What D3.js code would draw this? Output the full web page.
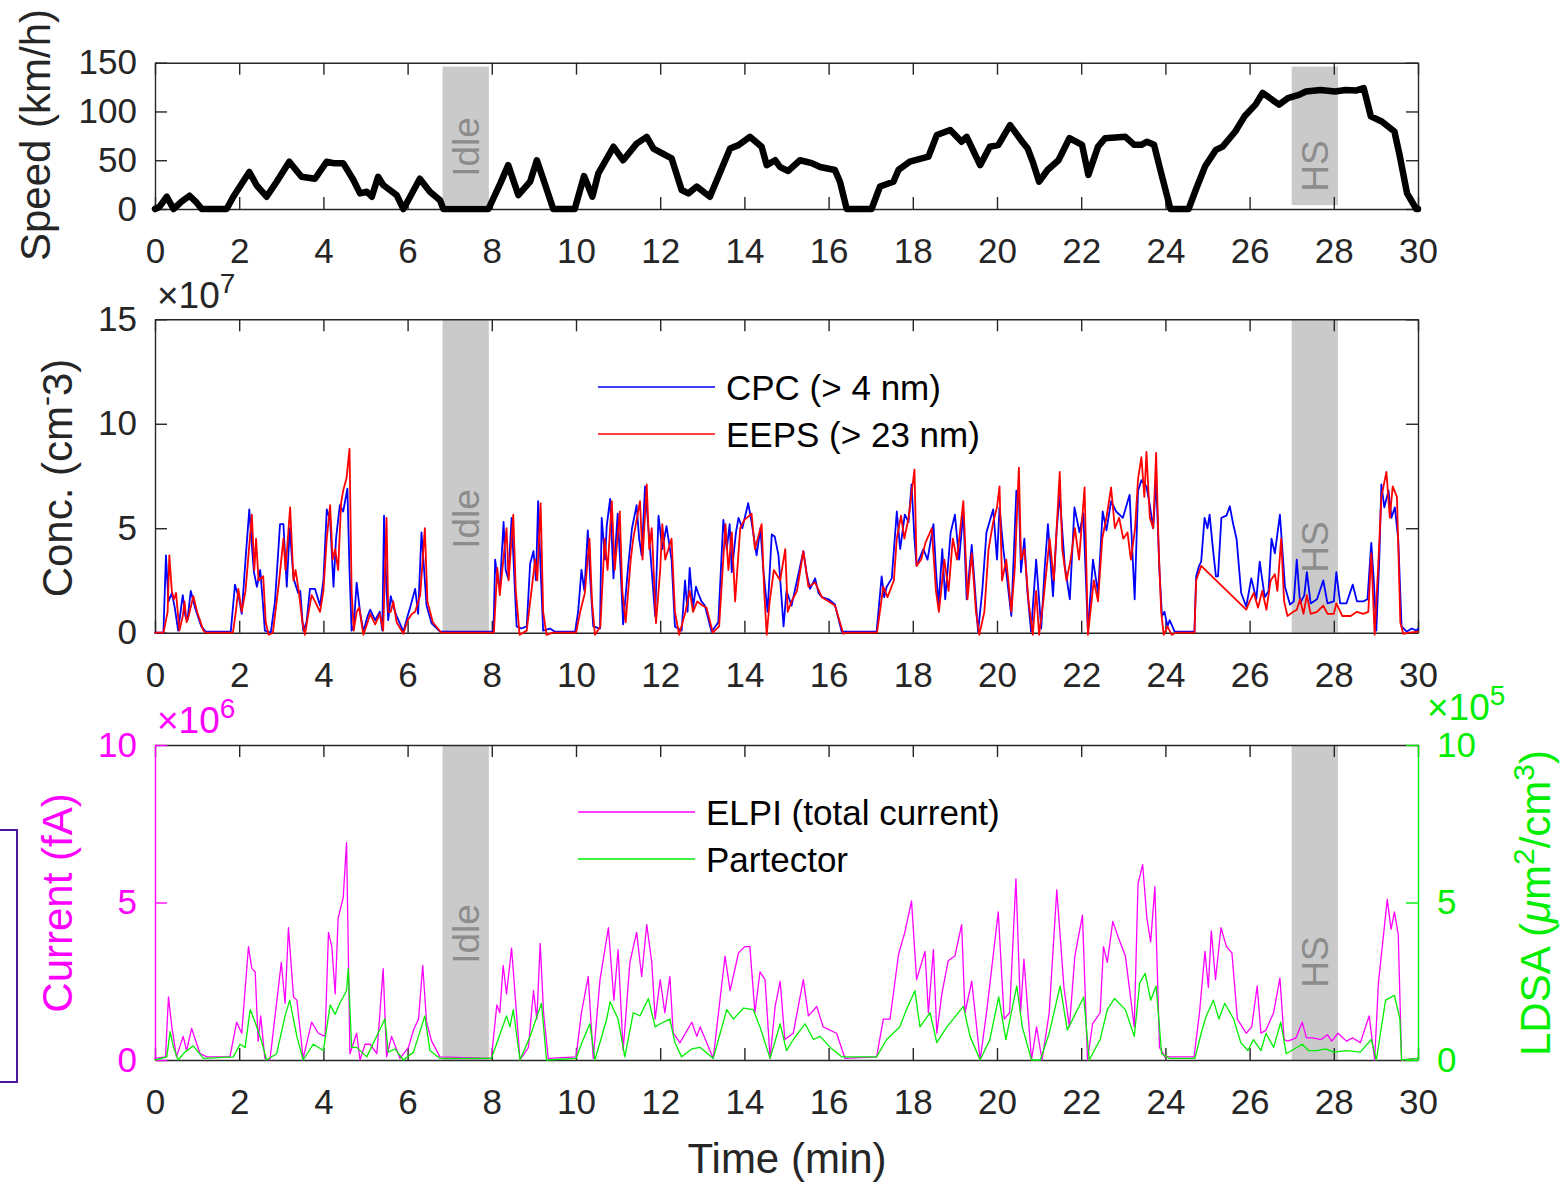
<!DOCTYPE html>
<html>
<head>
<meta charset="utf-8">
<script src="https://cdn.jsdelivr.net/npm/d3@7"></script>
<style>
  body { margin: 0; background: #fff; }
  svg { display: block; }
</style>
</head>
<body>
<div id="chart"></div>
<script>
/* CONSTANTS */
const width = 1567, height = 1183;
const FONT = "'Liberation Sans', Arial, Helvetica, sans-serif";
const INK = "#262626";

/* DATA (time in min) */
const xTicks = [0, 2, 4, 6, 8, 10, 12, 14, 16, 18, 20, 22, 24, 26, 28, 30];
const speedTicks = [0, 50, 100, 150];
const concTicks = [0, 5, 10, 15];
const currentTicks = [0, 5, 10];
const ldsaTicks = [0, 5, 10];

// shaded periods
const bands = [
  { start: 6.83, end: 7.93, label: "Idle" },
  { start: 27.0, end: 28.1, label: "HS" }
];
const speedBandRange = [4, 146];

// vehicle speed (km/h)
const speed = [[0,0],[0.1,2],[0.28,12.6],[0.44,0],[0.63,7.5],[0.82,13.6],[0.99,6.5],[1.11,0],[1.7,0],[1.86,12.6],[2.24,38],[2.41,24.6],[2.65,12.6],[2.89,28],[3.19,48.5],[3.48,33],[3.8,31],[4.08,48.5],[4.24,47],[4.47,47],[4.71,30],[4.87,16],[5.03,17.7],[5.15,12.6],[5.3,33],[5.42,24.6],[5.74,14.3],[5.9,0],[6.06,12.6],[6.29,31],[6.53,17.7],[6.77,9],[6.85,0],[7.92,0],[8.2,26],[8.39,45],[8.63,14.3],[8.91,28],[9.07,50],[9.23,29.7],[9.46,0],[9.97,0],[10.19,33.8],[10.39,12.6],[10.53,36.5],[10.89,63.8],[11.12,50],[11.44,67],[11.68,74],[11.84,62],[12.27,52],[12.51,19.5],[12.67,16],[12.87,23],[13.18,12.6],[13.66,62],[13.86,65.5],[14.13,74],[14.41,63.8],[14.53,45],[14.73,50],[14.85,43],[15.04,39],[15.32,50],[15.6,47],[15.8,43],[16.15,40],[16.27,28],[16.43,0],[17.02,0],[17.22,23],[17.54,28],[17.66,40],[17.93,48.5],[18.37,53.6],[18.57,75.8],[18.89,81],[19.16,69],[19.28,74],[19.6,45],[19.83,63.8],[20.03,65.5],[20.31,86],[20.6,69],[20.73,62],[20.86,47],[21.0,28],[21.2,40],[21.46,50],[21.72,72.6],[22.02,65.8],[22.17,35],[22.4,64],[22.57,72.6],[23.05,74],[23.26,65.8],[23.43,65.8],[23.56,69],[23.73,65.8],[23.9,36.6],[24.12,0],[24.55,0],[24.72,19.5],[24.94,43.5],[25.2,60.6],[25.36,64],[25.66,79.5],[25.88,95],[26.14,107],[26.31,119],[26.7,107],[26.91,113.7],[27.17,117],[27.34,120.5],[27.68,122],[28.03,120.5],[28.28,122],[28.54,121.6],[28.71,124],[28.88,95],[29.14,89.7],[29.44,79.5],[29.57,53.8],[29.74,16],[29.96,0],[30,0]];

// CPC number concentration (x 1e7 cm-3)
const cpc = [[0,0],[0.2,0],[0.26,3.7],[0.32,1.5],[0.4,1.9],[0.47,1.2],[0.55,0.1],[0.62,1.2],[0.66,1.8],[0.72,0.8],[0.77,0.6],[0.85,2.0],[0.95,1.2],[1.1,0.3],[1.2,0.05],[1.8,0.05],[1.9,2.3],[2.0,1.6],[2.06,0.9],[2.15,3.5],[2.24,5.9],[2.3,4.2],[2.35,2.9],[2.42,2.2],[2.5,3.0],[2.56,1.5],[2.61,0.1],[2.75,0.0],[2.85,1.5],[2.97,5.2],[3.05,5.2],[3.13,2.2],[3.2,5.0],[3.29,2.6],[3.4,1.9],[3.45,2.0],[3.52,0.1],[3.6,0.5],[3.68,2.1],[3.8,2.1],[3.92,1.3],[4.0,2.5],[4.08,5.9],[4.16,5.4],[4.24,2.2],[4.3,4.5],[4.39,6.1],[4.47,5.8],[4.57,6.9],[4.62,3.0],[4.67,0.1],[4.72,0.3],[4.79,2.4],[4.87,1.0],[4.95,0.05],[5.05,0.8],[5.11,1.1],[5.23,0.6],[5.34,1.0],[5.4,0.1],[5.44,5.6],[5.5,2.0],[5.54,0.6],[5.6,1.75],[5.67,1.2],[5.74,0.8],[5.9,0.05],[6.0,0.8],[6.06,1.2],[6.18,2.1],[6.25,0.9],[6.33,4.8],[6.4,2.8],[6.45,1.3],[6.57,0.45],[6.77,0.05],[8.04,0.05],[8.08,3.5],[8.14,2.5],[8.19,2.1],[8.28,5.3],[8.33,3.0],[8.39,2.6],[8.47,5.5],[8.55,2.0],[8.59,0.3],[8.7,0.2],[8.83,0.3],[8.91,3.3],[8.99,3.9],[9.05,2.5],[9.1,6.3],[9.16,3.0],[9.22,0.1],[9.38,0.2],[9.5,0.05],[9.98,0.05],[10.05,1.0],[10.13,3.0],[10.2,2.0],[10.28,4.9],[10.34,2.5],[10.41,0.3],[10.57,0.2],[10.61,5.5],[10.69,3.5],[10.73,5.1],[10.81,6.4],[10.89,2.6],[10.99,5.7],[11.06,3.0],[11.12,0.4],[11.24,3.2],[11.33,5.0],[11.44,6.1],[11.5,4.5],[11.56,3.7],[11.64,7.0],[11.7,5.5],[11.76,4.0],[11.88,0.8],[11.96,5.6],[12.05,4.0],[12.15,5.1],[12.27,3.5],[12.35,0.3],[12.51,0.1],[12.59,2.5],[12.65,1.0],[12.7,3.1],[12.78,1.2],[12.85,2.2],[12.9,1.9],[12.98,1.5],[13.06,1.3],[13.22,0.05],[13.38,0.5],[13.5,5.4],[13.58,4.0],[13.65,5.2],[13.7,2.9],[13.8,4.8],[13.86,5.5],[13.95,5.0],[14.09,6.2],[14.17,5.3],[14.29,3.7],[14.38,5.0],[14.45,3.0],[14.55,1.0],[14.65,4.7],[14.72,4.6],[14.81,3.7],[14.93,0.3],[15.0,2.0],[15.12,1.3],[15.25,2.5],[15.4,3.9],[15.48,2.8],[15.56,2.1],[15.68,2.6],[15.76,1.9],[15.84,1.7],[16.0,1.6],[16.15,1.35],[16.31,0.05],[17.14,0.05],[17.26,2.7],[17.32,1.7],[17.38,2.2],[17.5,2.6],[17.62,5.8],[17.7,4.0],[17.81,5.65],[17.9,5.3],[17.97,7.1],[18.04,4.5],[18.09,3.2],[18.25,4.0],[18.35,3.5],[18.49,5.2],[18.55,3.0],[18.61,1.3],[18.7,4.0],[18.77,1.6],[18.9,4.8],[19.0,5.65],[19.1,3.5],[19.2,5.8],[19.28,1.6],[19.4,4.2],[19.48,2.0],[19.55,0.05],[19.65,2.0],[19.75,4.8],[19.85,5.5],[19.91,5.9],[20.0,3.5],[20.06,6.0],[20.15,4.0],[20.22,2.9],[20.34,0.8],[20.46,6.8],[20.52,6.5],[20.57,2.9],[20.65,4.5],[20.72,2.0],[20.81,0.05],[20.93,3.5],[21.05,0.2],[21.13,3.0],[21.21,5.2],[21.33,1.75],[21.42,5.0],[21.49,6.6],[21.61,3.2],[21.73,1.6],[21.84,6.0],[21.96,4.8],[22.05,5.7],[22.16,0.1],[22.28,3.5],[22.4,1.9],[22.51,5.8],[22.6,4.9],[22.71,6.3],[22.83,5.8],[22.99,5.5],[23.15,6.6],[23.27,1.6],[23.35,6.8],[23.43,7.3],[23.55,7.0],[23.63,6.1],[23.71,5.0],[23.78,7.3],[23.86,2.9],[23.92,0.8],[23.98,1.0],[24.05,0.3],[24.1,0.6],[24.22,0.05],[24.69,0.05],[24.73,2.7],[24.8,3.2],[24.85,3.4],[24.93,5.5],[25.0,5.0],[25.05,5.65],[25.13,4.0],[25.2,2.7],[25.25,2.7],[25.33,5.5],[25.45,5.6],[25.53,6.05],[25.61,5.2],[25.69,4.5],[25.8,1.9],[25.92,1.25],[26.04,2.6],[26.16,1.6],[26.24,3.4],[26.36,1.7],[26.45,2.0],[26.52,4.5],[26.6,3.8],[26.72,5.65],[26.84,2.2],[26.96,1.35],[27.05,1.5],[27.12,3.5],[27.2,1.4],[27.3,1.8],[27.36,2.9],[27.45,1.4],[27.6,1.6],[27.75,2.5],[27.85,1.4],[28.0,1.5],[28.06,2.9],[28.15,1.4],[28.3,1.4],[28.45,2.3],[28.55,1.5],[28.7,1.5],[28.8,1.6],[28.89,4.3],[28.95,2.5],[29.01,0.1],[29.08,3.5],[29.13,7.1],[29.2,6.0],[29.3,6.8],[29.37,5.5],[29.45,6.0],[29.53,4.5],[29.61,0.3],[29.73,0.05],[29.85,0.2],[29.97,0.1],[30,0.2]];

// EEPS number concentration (x 1e7 cm-3)
const eeps = [[0,0],[0.2,0],[0.3,1.0],[0.34,3.7],[0.4,2.0],[0.45,1.6],[0.5,1.9],[0.58,0.1],[0.66,0.8],[0.7,1.5],[0.75,0.5],[0.8,0.8],[0.91,1.75],[1.0,1.0],[1.15,0.1],[1.2,0],[1.85,0],[1.92,1.0],[1.98,2.1],[2.06,1.0],[2.15,2.0],[2.3,5.65],[2.36,3.0],[2.4,4.5],[2.46,2.5],[2.57,2.7],[2.63,0.5],[2.7,-0.1],[2.8,0],[2.95,2.5],[3.05,4.5],[3.1,3.0],[3.21,6.0],[3.29,2.5],[3.34,3.0],[3.42,1.9],[3.5,0.5],[3.56,-0.1],[3.65,1.0],[3.72,1.8],[3.8,1.5],[3.92,1.0],[4.0,2.0],[4.08,4.5],[4.16,6.1],[4.22,3.5],[4.28,4.0],[4.35,3.0],[4.42,6.2],[4.47,6.8],[4.55,7.4],[4.62,8.8],[4.67,2.0],[4.72,0.1],[4.79,1.0],[4.85,1.2],[4.95,-0.1],[5.05,0.5],[5.11,0.9],[5.23,0.4],[5.34,0.9],[5.42,0.1],[5.5,5.5],[5.54,1.0],[5.6,1.0],[5.66,1.5],[5.74,0.5],[5.9,-0.05],[6.0,0.6],[6.1,0.9],[6.18,1.0],[6.3,1.8],[6.41,5.0],[6.47,1.5],[6.6,0.5],[6.8,0],[8.05,0],[8.13,3.1],[8.19,1.8],[8.35,5.0],[8.4,2.5],[8.51,5.65],[8.57,2.0],[8.66,-0.1],[8.83,0.1],[9.03,3.5],[9.08,2.5],[9.16,6.2],[9.22,1.0],[9.3,-0.1],[9.45,0],[10.0,0],[10.1,1.0],[10.21,1.9],[10.32,4.5],[10.38,1.5],[10.45,-0.1],[10.58,0.3],[10.68,4.5],[10.75,3.0],[10.85,6.3],[10.92,3.0],[11.04,5.8],[11.1,2.0],[11.18,0.5],[11.3,3.5],[11.36,4.5],[11.52,6.3],[11.58,3.5],[11.68,7.1],[11.74,4.0],[11.8,5.0],[11.9,0.45],[12.0,3.0],[12.05,5.2],[12.12,3.5],[12.27,4.5],[12.35,1.0],[12.45,-0.1],[12.6,1.0],[12.7,2.0],[12.78,1.0],[12.88,1.5],[13.0,1.3],[13.1,1.2],[13.25,0],[13.4,0.3],[13.55,5.2],[13.62,3.0],[13.7,4.8],[13.78,1.5],[13.9,5.0],[14.0,5.4],[14.17,5.7],[14.25,4.0],[14.41,5.2],[14.47,2.0],[14.53,-0.1],[14.6,1.5],[14.7,3.0],[14.85,2.5],[14.97,4.0],[15.03,1.0],[15.12,1.5],[15.25,2.0],[15.4,3.9],[15.52,2.2],[15.68,2.4],[15.84,1.7],[16.15,1.3],[16.35,-0.05],[16.45,0],[17.15,0],[17.3,2.2],[17.4,1.7],[17.55,2.5],[17.62,4.5],[17.72,5.6],[17.8,4.5],[17.9,5.5],[18.04,7.8],[18.09,3.2],[18.2,3.5],[18.3,4.3],[18.45,5.0],[18.55,2.0],[18.62,1.0],[18.75,3.5],[18.85,2.0],[18.95,4.5],[19.05,3.5],[19.2,6.3],[19.3,1.6],[19.4,3.8],[19.5,1.0],[19.58,-0.1],[19.7,1.0],[19.8,4.0],[19.91,5.3],[20.0,6.0],[20.06,7.0],[20.12,2.5],[20.22,3.5],[20.34,1.0],[20.42,3.0],[20.52,7.9],[20.57,3.5],[20.65,4.0],[20.75,1.5],[20.85,-0.1],[20.93,2.0],[21.0,-0.1],[21.1,1.5],[21.25,4.5],[21.35,2.5],[21.49,7.7],[21.55,4.0],[21.65,2.5],[21.75,3.5],[21.85,5.0],[21.95,3.5],[22.08,6.95],[22.16,-0.1],[22.3,2.5],[22.4,1.5],[22.5,4.5],[22.6,5.5],[22.71,6.95],[22.8,5.0],[22.9,5.5],[23.0,4.5],[23.1,4.8],[23.18,3.5],[23.28,5.0],[23.35,7.35],[23.43,8.4],[23.5,6.5],[23.55,8.65],[23.63,5.5],[23.71,5.0],[23.78,8.6],[23.84,4.0],[23.9,1.0],[23.96,-0.1],[24.05,0.3],[24.15,-0.1],[24.25,0],[24.69,0],[24.73,2.5],[24.85,3.2],[25.92,1.1],[26.0,1.5],[26.1,1.9],[26.2,1.2],[26.3,2.0],[26.4,1.1],[26.5,2.5],[26.6,2.8],[26.66,2.0],[26.75,4.5],[26.82,1.5],[26.9,0.8],[27.0,0.95],[27.12,1.1],[27.2,1.6],[27.28,0.9],[27.36,1.8],[27.45,0.9],[27.6,1.0],[27.75,1.3],[27.85,0.9],[28.0,0.9],[28.06,1.4],[28.2,0.8],[28.4,0.8],[28.55,1.0],[28.7,0.9],[28.82,1.0],[28.89,3.8],[28.97,-0.1],[29.05,3.0],[29.13,6.5],[29.25,7.7],[29.33,5.5],[29.4,7.0],[29.5,6.5],[29.58,0.5],[29.65,-0.05],[29.8,0],[30,0.05]];

// ELPI total current (x 1e6 fA)
const elpi = [[0,0.05],[0.25,0.1],[0.32,2.0],[0.4,1.05],[0.51,0.1],[0.67,0.75],[0.75,0.3],[0.87,1.0],[1.07,0.2],[1.23,0.1],[1.78,0.1],[1.94,1.2],[2.06,0.85],[2.22,3.6],[2.3,2.9],[2.38,2.8],[2.45,0.6],[2.51,1.4],[2.61,0.05],[2.73,0.0],[3.0,3.1],[3.09,1.8],[3.17,4.2],[3.29,2.0],[3.37,1.9],[3.52,0.05],[3.72,1.2],[3.88,0.85],[4.04,0.75],[4.12,4.05],[4.2,3.6],[4.28,2.1],[4.35,4.5],[4.47,5.15],[4.55,6.9],[4.63,0.2],[4.79,0.85],[4.87,0],[4.99,0.5],[5.11,0.5],[5.27,0.2],[5.42,2.9],[5.5,0.1],[5.62,0.75],[5.82,0.05],[6.02,0.4],[6.14,0.95],[6.26,1.3],[6.36,3.0],[6.45,1.2],[6.57,0.6],[6.77,0.1],[7.99,0.05],[8.12,1.75],[8.19,1.5],[8.27,3.0],[8.35,2.1],[8.47,3.55],[8.67,0],[8.87,0.4],[8.99,2.2],[9.07,1.3],[9.15,3.7],[9.23,1.5],[9.34,0.05],[10.0,0.1],[10.13,1.5],[10.29,2.65],[10.41,0.05],[10.57,2.55],[10.77,4.2],[10.9,1.9],[11.0,3.5],[11.12,0.3],[11.28,3.1],[11.44,4.05],[11.56,2.65],[11.68,4.3],[11.8,3.1],[11.88,1.3],[12.0,2.55],[12.11,1.5],[12.23,2.65],[12.31,0.85],[12.47,0.55],[12.75,1.2],[12.87,0.75],[12.95,1.05],[13.26,0.05],[13.54,3.3],[13.66,2.2],[13.86,3.4],[14.01,3.6],[14.13,3.6],[14.25,1.5],[14.37,2.8],[14.49,2.55],[14.61,0.05],[14.73,1.7],[14.85,2.5],[14.96,0.65],[15.16,0.85],[15.4,2.55],[15.52,1.4],[15.72,1.7],[15.87,1.05],[16.19,0.85],[16.39,0.05],[17.14,0.1],[17.3,1.3],[17.46,1.3],[17.66,3.35],[17.81,4.05],[17.97,5.05],[18.09,2.55],[18.29,3.45],[18.37,1.5],[18.49,3.5],[18.57,0.85],[18.69,2.1],[18.84,3.15],[19.0,3.3],[19.16,4.3],[19.24,1.5],[19.4,2.5],[19.6,0],[19.76,1.6],[20.03,4.7],[20.17,1.3],[20.3,1.5],[20.45,5.75],[20.56,1.5],[20.64,3.2],[20.82,0],[20.94,1.05],[21.07,0],[21.24,1.5],[21.42,5.4],[21.59,2.3],[21.72,1.05],[21.85,3.3],[22.03,4.6],[22.15,0],[22.27,1.15],[22.45,1.5],[22.53,3.6],[22.62,3.1],[22.75,4.4],[22.88,3.9],[23.05,3.3],[23.26,1.05],[23.35,5.6],[23.46,6.2],[23.56,4.5],[23.65,3.75],[23.75,5.5],[23.86,0.4],[23.99,0.1],[24.68,0.1],[24.81,1.5],[24.94,3.45],[25.02,2.3],[25.09,4.1],[25.19,2.55],[25.32,4.2],[25.45,3.6],[25.58,3.4],[25.71,1.3],[25.92,0.85],[26.05,1.05],[26.18,2.35],[26.27,0.85],[26.39,0.95],[26.57,1.5],[26.72,2.6],[26.82,0.65],[26.91,0.6],[27.1,0.7],[27.25,1.2],[27.35,0.7],[27.5,0.7],[27.7,0.65],[27.85,0.8],[27.95,0.6],[28.1,0.85],[28.3,0.6],[28.45,0.7],[28.63,0.55],[28.84,1.4],[28.97,0],[29.06,2.45],[29.27,5.1],[29.36,4.15],[29.44,4.7],[29.53,4.0],[29.61,0],[30,0.05]];

// Partector LDSA (x 1e5 um2/cm3)
const partector = [[0,0],[0.28,0.1],[0.36,0.9],[0.44,0.4],[0.55,0],[0.71,0.25],[0.91,0.45],[1.15,0.05],[1.86,0.1],[2.02,0.5],[2.14,0.4],[2.26,1.6],[2.38,1.2],[2.53,0.6],[2.65,0],[2.89,0.2],[3.09,1.4],[3.2,1.9],[3.37,0.75],[3.52,0],[3.76,0.5],[4.0,0.3],[4.16,1.75],[4.28,1.45],[4.39,1.8],[4.55,2.2],[4.59,2.9],[4.67,0.4],[4.79,0.4],[5.03,0.1],[5.46,1.3],[5.54,0.25],[5.7,0.35],[5.9,0],[6.14,0.25],[6.41,1.4],[6.53,0.3],[6.77,0.05],[7.99,0.05],[8.19,0.8],[8.35,1.4],[8.43,1.05],[8.51,1.6],[8.67,0],[8.91,0.75],[9.18,1.8],[9.3,0],[10.0,0.05],[10.17,0.65],[10.33,1.15],[10.45,0],[10.73,1.3],[10.81,1.85],[11.0,1.3],[11.16,0.1],[11.36,1.5],[11.52,1.4],[11.72,1.95],[11.88,1.05],[12.0,1.15],[12.23,1.3],[12.35,0.55],[12.51,0.1],[12.75,0.35],[12.95,0.4],[13.26,0.05],[13.58,1.6],[13.74,1.3],[13.98,1.65],[14.21,1.6],[14.37,1.05],[14.61,0.05],[14.85,1.15],[15.0,0.3],[15.16,0.65],[15.44,1.15],[15.64,0.65],[15.8,0.75],[16.04,0.4],[16.31,0.1],[17.14,0.1],[17.38,0.65],[17.69,1.05],[17.85,1.6],[18.05,2.2],[18.17,1.05],[18.41,1.5],[18.57,0.55],[18.81,1.05],[19.2,1.7],[19.36,0.75],[19.6,0],[19.83,0.65],[20.04,2.0],[20.21,0.65],[20.47,2.35],[20.6,1.05],[20.82,0],[21.03,0],[21.24,0.85],[21.5,2.35],[21.67,0.95],[22.06,2.0],[22.19,0],[22.45,0.65],[22.62,1.6],[22.79,1.95],[23.05,1.6],[23.26,0.75],[23.39,2.45],[23.52,2.75],[23.65,1.9],[23.78,2.35],[23.91,0.2],[24.1,0.05],[24.7,0.05],[24.85,0.85],[24.97,1.4],[25.14,1.9],[25.27,1.3],[25.41,1.8],[25.62,1.3],[25.79,0.55],[25.96,0.3],[26.09,0.65],[26.27,0.3],[26.39,0.85],[26.57,0.4],[26.74,1.2],[26.87,0.2],[27.0,0.3],[27.25,0.5],[27.4,0.3],[27.6,0.3],[27.8,0.35],[28.0,0.25],[28.3,0.3],[28.63,0.25],[28.89,0.65],[29.01,0],[29.23,1.9],[29.44,2.05],[29.57,1.3],[29.61,0],[30,0.05]];

/* SVG */
const svg = d3.select("#chart").append("svg")
  .attr("width", width)
  .attr("height", height)
  .style("font-family", FONT);

/* SCALES */
const xScale = d3.scaleLinear().domain([0, 30]).range([155, 1418]);
const ySpeed = d3.scaleLinear().domain([0, 150]).range([209, 62.7]);
const yConc = d3.scaleLinear().domain([0, 15]).range([632.7, 319.3]);
const yCur = d3.scaleLinear().domain([0, 10]).range([1060, 745]);
const yLdsa = d3.scaleLinear().domain([0, 10]).range([1060, 745]);

// axis styling helper
function style(g, color) {
  g.attr("font-family", FONT).attr("font-size", 35);
  g.select(".domain").attr("stroke", color).attr("stroke-width", 1.4);
  g.selectAll(".tick line").attr("stroke", color).attr("stroke-width", 1.4);
  g.selectAll(".tick text").attr("fill", color);
}

// shaded bands + rotated labels
function drawBands(yScale, yRange, labelY) {
  bands.forEach((b, i) => {
    svg.append("rect")
      .attr("x", xScale(b.start))
      .attr("width", xScale(b.end) - xScale(b.start))
      .attr("y", yScale(yRange[1]))
      .attr("height", yScale(yRange[0]) - yScale(yRange[1]))
      .attr("fill", "#cacaca");
    const cx = (xScale(b.start) + xScale(b.end)) / 2;
    svg.append("text")
      .attr("transform", `translate(${cx},${labelY[i]}) rotate(-90)`)
      .attr("text-anchor", "middle")
      .attr("dy", "0.36em")
      .attr("font-size", 37)
      .attr("fill", "#8c8c8c")
      .text(b.label);
  });
}

// box with inward ticks
function drawBox(yScale, yTicks, leftColor, rightColor, rightLabels) {
  const y0 = yScale.range()[0], y1 = yScale.range()[1];
  svg.append("g")
    .attr("transform", `translate(0,${y0})`)
    .call(d3.axisBottom(xScale).tickValues(xTicks).tickSizeInner(-12).tickSizeOuter(0).tickPadding(29))
    .call(g => style(g, INK));
  svg.append("g")
    .attr("transform", `translate(0,${y1})`)
    .call(d3.axisTop(xScale).tickValues(xTicks).tickSizeInner(-12).tickSizeOuter(0).tickFormat(""))
    .call(g => style(g, INK));
  svg.append("g")
    .attr("transform", `translate(${xScale.range()[0]},0)`)
    .call(d3.axisLeft(yScale).tickValues(yTicks).tickSizeInner(-12).tickSizeOuter(0).tickPadding(18))
    .call(g => style(g, leftColor));
  svg.append("g")
    .attr("transform", `translate(${xScale.range()[1]},0)`)
    .call(d3.axisRight(yScale).tickValues(yTicks).tickSizeInner(-12).tickSizeOuter(0).tickPadding(19)
      .tickFormat(rightLabels ? d => d : ""))
    .call(g => style(g, rightColor));
}

function drawLine(data, yScale, color, w) {
  svg.append("path")
    .datum(data)
    .attr("fill", "none")
    .attr("stroke", color)
    .attr("stroke-width", w)
    .attr("stroke-linejoin", "round")
    .attr("stroke-linecap", "round")
    .attr("d", d3.line().x(d => xScale(d[0])).y(d => yScale(d[1])));
}

function rotLabel(x, y, color, parts) {
  const t = svg.append("text")
    .attr("transform", `translate(${x},${y}) rotate(-90)`)
    .attr("text-anchor", "middle")
    .attr("font-size", 42)
    .attr("fill", color);
  parts.forEach(p => {
    const s = t.append("tspan").text(p.t);
    if (p.sup) s.attr("baseline-shift", "super").attr("font-size", 30);
    if (p.it) s.attr("font-style", "italic");
  });
}

function expLabel(x, y, color, exp) {
  const t = svg.append("text").attr("x", x).attr("y", y).attr("font-size", 37).attr("fill", color);
  t.append("tspan").text("\u00d710");
  t.append("tspan").attr("baseline-shift", "super").attr("font-size", 28).text(exp);
}

function legend(x, y, items) {
  items.forEach((d, i) => {
    const yy = y + i * 47;
    svg.append("line").attr("x1", x).attr("x2", x + 117).attr("y1", yy).attr("y2", yy)
      .attr("stroke", d.color).attr("stroke-width", 1.5);
    svg.append("text").attr("x", x + 128).attr("y", yy).attr("dy", "0.36em")
      .attr("font-size", 35).attr("fill", "#000").text(d.label);
  });
}

/* TOP PANEL: speed */
drawBands(ySpeed, speedBandRange, [147, 166]);
drawBox(ySpeed, speedTicks, INK, INK, false);
drawLine(speed, ySpeed, "#000", 6.5);
rotLabel(50, 135, INK, [{ t: "Speed (km/h)" }]);

/* MIDDLE PANEL: number concentration */
drawBands(yConc, yConc.domain(), [519, 547]);
drawBox(yConc, concTicks, INK, INK, false);
drawLine(cpc, yConc, "#0000ff", 1.8);
drawLine(eeps, yConc, "#ff0000", 1.8);
rotLabel(72, 478, INK, [{ t: "Conc. (cm" }, { t: "-", sup: true }, { t: "3)" }]);
expLabel(157, 308, INK, "7");
legend(598, 387, [
  { label: "CPC (> 4 nm)", color: "#0000ff" },
  { label: "EEPS (> 23 nm)", color: "#ff0000" }
]);

/* BOTTOM PANEL: current and LDSA */
drawBands(yCur, yCur.domain(), [934, 962]);
drawBox(yCur, currentTicks, "#ff00ff", "#00ee00", true);
drawLine(elpi, yCur, "#ff00ff", 1.3);
drawLine(partector, yLdsa, "#00ee00", 1.3);
rotLabel(72, 903, "#ff00ff", [{ t: "Current (fA)" }]);
rotLabel(1550, 903, "#00ee00", [{ t: "LDSA (" }, { t: "\u03bc", it: true }, { t: "m" }, { t: "2", sup: true }, { t: "/cm" }, { t: "3", sup: true }, { t: ")" }]);
expLabel(157, 733, "#ff00ff", "6");
expLabel(1427, 720, "#00ee00", "5");
legend(578, 812, [
  { label: "ELPI (total current)", color: "#ff00ff" },
  { label: "Partector", color: "#00ee00" }
]);

svg.append("text")
  .attr("x", 787).attr("y", 1173)
  .attr("text-anchor", "middle")
  .attr("font-size", 42)
  .attr("fill", INK)
  .text("Time (min)");

// bracket at left edge
svg.append("path")
  .attr("d", "M0,830H17V1082H0")
  .attr("fill", "none")
  .attr("stroke", "#4d17a0")
  .attr("stroke-width", 2);
</script>
</body>
</html>
